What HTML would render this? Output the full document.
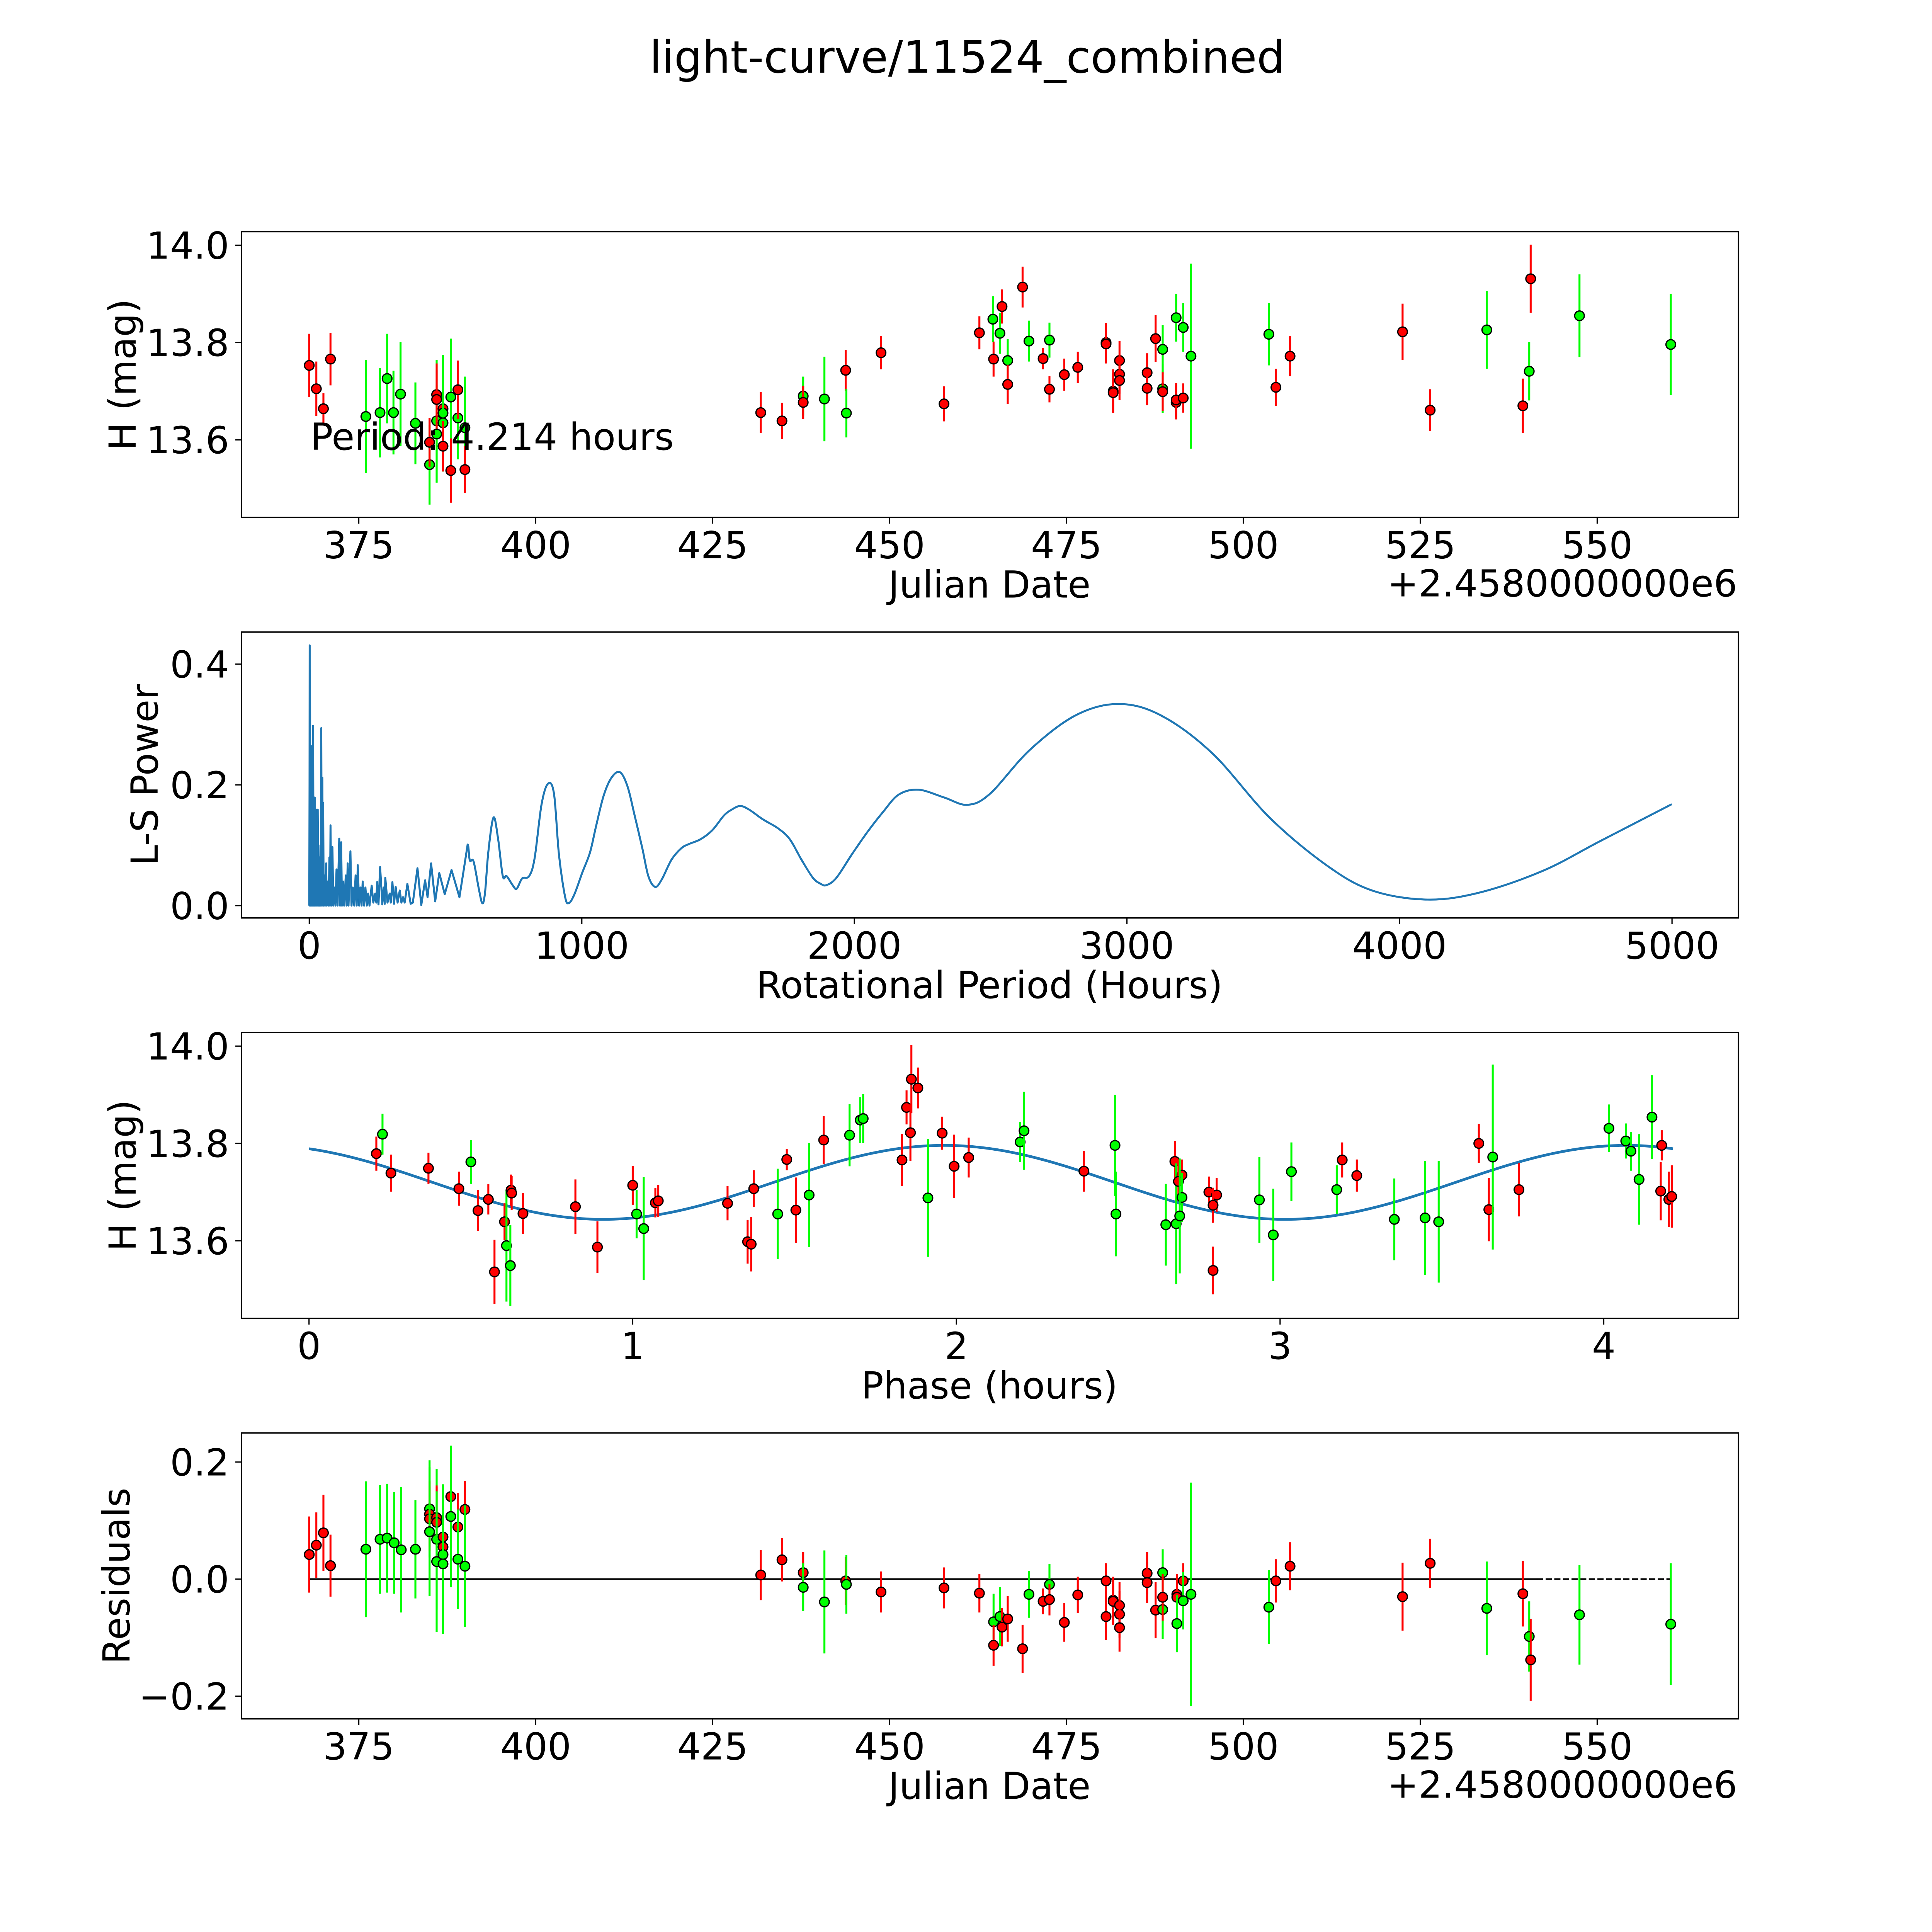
<!DOCTYPE html>
<html><head><meta charset="utf-8"><style>
html,body{margin:0;padding:0;background:#fff;overflow:hidden;}
svg{display:block;width:100vw;height:100vh;}
text{font-family:"DejaVu Sans","Liberation Sans",sans-serif;fill:#000;}
</style></head><body>
<svg id="fig" xmlns="http://www.w3.org/2000/svg" viewBox="0 0 1568 1568" preserveAspectRatio="none">
<rect x="0" y="0" width="1568" height="1568" fill="#fff"/>
<text x="785" y="59" font-size="36" text-anchor="middle">light-curve/11524_combined</text>
</svg>
<script>
// ---- Panel 1: light curve vs Julian date ----
const lcDate=[368.0,369.0,370.0,371.0,376.0,378.0,379.0,379.9,380.9,383.0,385.0,385.0,386.0,386.0,386.0,386.0,386.9,386.9,386.9,386.9,388.0,388.0,389.0,389.0,390.0,390.0,431.8,434.8,437.8,437.8,440.8,443.8,443.9,448.8,457.7,462.7,464.6,464.7,465.9,465.6,466.7,466.7,468.8,469.7,471.7,472.6,472.6,474.7,476.6,480.6,480.6,481.6,481.6,482.5,482.5,482.5,486.4,486.4,487.6,488.6,488.6,488.6,490.5,490.5,490.5,491.5,491.5,492.6,503.6,504.6,506.6,522.5,526.4,534.4,539.5,540.4,540.6,547.5,560.4];
const lcMag=[13.753,13.705,13.664,13.766,13.648,13.656,13.726,13.656,13.694,13.634,13.549,13.595,13.639,13.612,13.693,13.683,13.664,13.655,13.635,13.587,13.688,13.537,13.645,13.703,13.625,13.539,13.656,13.639,13.690,13.677,13.684,13.743,13.655,13.779,13.674,13.820,13.848,13.766,13.874,13.819,13.763,13.714,13.914,13.803,13.767,13.805,13.704,13.734,13.749,13.800,13.797,13.700,13.697,13.763,13.735,13.722,13.738,13.706,13.808,13.786,13.705,13.699,13.851,13.677,13.682,13.831,13.686,13.772,13.817,13.708,13.772,13.822,13.661,13.826,13.670,13.741,13.931,13.855,13.796];
const lcErr=[.065,.056,.032,.054,.116,.092,.092,.086,.107,.084,.082,.05,.125,.1,.064,.06,.066,.12,.1,.052,.12,.066,.085,.06,.105,.048,.042,.037,.04,.034,.087,.042,.05,.034,.036,.034,.047,.036,.035,.042,.044,.04,.042,.042,.022,.036,.027,.033,.032,.04,.04,.045,.04,.04,.04,.04,.04,.035,.048,.05,.05,.04,.049,.035,.035,.05,.03,.19,.064,.038,.041,.058,.043,.08,.056,.06,.07,.085,.104];
const lcBand=['r','r','r','r','g','g','g','g','g','g','g','r','g','g','r','r','r','g','g','r','g','r','g','r','g','r','r','r','g','r','g','r','g','r','r','r','g','r','r','g','g','r','r','g','r','g','r','r','r','r','r','r','r','r','r','r','r','r','r','g','g','r','g','r','r','g','r','g','g','r','r','r','r','g','r','g','r','g','g'];
const dateTicks=[375,400,425,450,475,500,525,550];
const magTicks=[14.0,13.8,13.6];
const magTickLabels=['14.0','13.8','13.6'];

// ---- Panel 2: Lomb-Scargle periodogram ----
const lsPeriod=[0,1,1.5,2,3,4,5,6,8,9,11,12,14,16,18,19,20,22,24,26,28,29,31,33,36,38,41,42,44,46,48,50,51,53,56,58,62,64,68,71,74,76,78,81,85,88,92,96,100,104,110,113,117,120,124,128,134,137,141,144,151,155,160,165,170,174,178,183,188,192,196,201,206,211,216,221,229,235,242,246,249,254,260,268,273,277,279,287,295,299,305,311,317,324,332,338,344,350,360,372,380,397,411,425,434,447,462,477,497,522,551,567,581,589,603,622,635,645,657,676,693,710,724,746,761,781,807,827,852,876,898,916,938,952,973,1002,1030,1052,1080,1109,1140,1168,1194,1222,1244,1269,1293,1329,1365,1393,1436,1479,1521,1550,1581,1614,1664,1720,1763,1806,1848,1877,1898,1934,1991,2048,2105,2163,2236,2330,2414,2497,2644,2811,2968,3125,3314,3523,3732,3900,4103,4297,4528,4737,4999];
const lsPower=[0,0.20,0.431,0,0.39,0,0.17,0,0.264,0,0.2,0,0.298,0,0.12,0,0.179,0,0.13,0,0.159,0,0.159,0,0.08,0,0.1,0,0.294,0,0.212,0,0.17,0,0.05,0,0.07,0,0.04,0,0.08,0,0.133,0,0.097,0,0.03,0,0.06,0,0.111,0,0.105,0,0.04,0,0.05,0,0.07,0,0.09,0,0.03,0,0.05,0,0.067,0,0.03,0,0.04,0,0.03,0,0.02,0,0.033,0.005,0.02,0.005,0.039,0.002,0.064,0.002,0.03,0.003,0.046,0.005,0.02,0.005,0.039,0.003,0.031,0.005,0.025,0.005,0.014,0.005,0.036,0.003,0.005,0.062,0.001,0.042,0.014,0.07,0.007,0.054,0.019,0.059,0.014,0.06,0.101,0.075,0.073,0.028,0.004,0.022,0.089,0.146,0.110,0.049,0.049,0.034,0.028,0.045,0.049,0.079,0.167,0.202,0.185,0.085,0.016,0.004,0.019,0.055,0.088,0.131,0.182,0.212,0.221,0.197,0.149,0.095,0.049,0.031,0.043,0.076,0.095,0.102,0.110,0.125,0.149,0.159,0.165,0.159,0.143,0.128,0.110,0.076,0.046,0.036,0.034,0.046,0.085,0.122,0.155,0.184,0.192,0.179,0.167,0.185,0.258,0.315,0.334,0.315,0.252,0.146,0.067,0.025,0.010,0.022,0.058,0.107,0.168];
const periodTicks=[0,1000,2000,3000,4000,5000];
const powerTicks=[0.0,0.2,0.4];
const powerTickLabels=['0.0','0.2','0.4'];
const smoothFrom=575;

// ---- Panel 3: phased light curve ----
const phPhase=[.208,.227,.253,.369,.463,.500,.522,.554,.573,.604,.610,.622,.624,.626,.661,.823,.891,1.000,1.012,1.034,1.070,1.079,1.293,1.355,1.366,1.374,1.448,1.476,1.504,1.545,1.590,1.670,1.703,1.712,1.832,1.846,1.858,1.861,1.881,1.912,1.956,1.993,2.038,2.197,2.209,2.394,2.490,2.493,2.647,2.675,2.679,2.697,2.686,2.697,2.690,2.780,2.804,2.793,2.793,2.936,2.979,3.035,3.175,3.192,3.237,3.353,3.448,3.490,3.614,3.645,3.657,3.738,4.016,4.068,4.084,4.109,4.149,4.176,4.179,4.201,4.210];
const phMag=[13.779,13.819,13.739,13.749,13.707,13.762,13.662,13.685,13.536,13.639,13.590,13.549,13.704,13.698,13.656,13.670,13.587,13.714,13.655,13.625,13.678,13.682,13.677,13.598,13.593,13.707,13.655,13.767,13.663,13.694,13.807,13.817,13.848,13.851,13.766,13.874,13.822,13.932,13.914,13.688,13.821,13.753,13.771,13.803,13.826,13.743,13.796,13.655,13.633,13.763,13.635,13.735,13.722,13.689,13.651,13.700,13.694,13.673,13.539,13.684,13.612,13.742,13.705,13.766,13.734,13.644,13.647,13.639,13.800,13.664,13.772,13.705,13.831,13.805,13.784,13.726,13.854,13.702,13.796,13.685,13.691];
const phErr=[.035,.042,.038,.032,.035,.045,.042,.031,.066,.038,.115,.083,.032,.035,.042,.056,.053,.04,.05,.106,.03,.033,.035,.045,.056,.038,.093,.022,.067,.107,.049,.064,.047,.05,.054,.035,.058,.07,.042,.121,.034,.065,.041,.041,.08,.042,.104,.087,.084,.042,.124,.032,.04,.05,.118,.032,.035,.036,.049,.088,.095,.06,.05,.036,.033,.084,.117,.125,.04,.065,.19,.055,.049,.036,.04,.093,.086,.06,.031,.057,.064];
const phBand=['r','g','r','r','r','g','r','r','r','r','g','g','r','r','r','r','r','r','g','g','r','r','r','r','r','r','g','r','r','g','r','g','g','g','r','r','r','r','r','g','r','r','r','g','g','r','g','g','g','r','g','r','r','g','g','r','r','r','r','g','g','g','g','r','r','g','g','g','r','r','g','r','g','g','g','g','g','r','r','r','r'];
const fitMean=13.720, fitAmp=0.076, fitPeak=1.962, fitPeriod=4.214;
const phaseTicks=[0,1,2,3,4];

// ---- Panel 4: residuals vs Julian date ----
const resDate=[368.0,369.0,370.0,371.0,376.0,378.0,379.0,380.0,381.0,383.0,385.0,385.0,385.0,385.0,386.0,386.0,386.0,386.0,386.9,386.9,386.9,386.9,388.0,388.0,389.0,389.0,390.0,390.0,431.8,434.8,437.8,437.8,440.8,443.8,443.9,448.8,457.7,462.7,464.7,464.7,465.6,465.9,466.7,468.8,469.7,471.7,472.6,472.6,474.7,476.6,480.6,480.6,481.6,481.6,482.5,482.5,482.5,486.4,486.4,487.6,488.6,488.6,488.6,490.6,490.6,490.6,491.5,491.5,492.6,503.6,504.6,506.6,522.5,526.4,534.4,539.5,540.4,540.6,547.5,560.4];
const resVal=[.042,.058,.079,.023,.051,.068,.070,.062,.050,.051,.120,.111,.103,.081,.068,.105,.097,.030,.072,.055,.042,.026,.141,.107,.089,.034,.119,.022,.007,.033,.011,-.014,-.039,-.003,-.009,-.022,-.015,-.024,-.073,-.113,-.064,-.082,-.068,-.119,-.026,-.038,-.009,-.035,-.074,-.027,-.003,-.064,-.036,-.038,-.045,-.060,-.083,.010,-.006,-.053,.011,-.052,-.031,-.026,-.031,-.076,-.003,-.037,-.026,-.048,-.003,.022,-.030,.027,-.050,-.025,-.098,-.138,-.061,-.077];
const resErr=[.065,.056,.065,.053,.116,.093,.093,.087,.107,.084,.083,.056,.055,.11,.12,.055,.06,.12,.05,.05,.12,.12,.066,.121,.058,.085,.049,.104,.043,.037,.035,.041,.088,.041,.05,.035,.035,.033,.048,.035,.05,.033,.039,.041,.04,.022,.035,.027,.033,.031,.03,.04,.04,.04,.04,.04,.041,.036,.035,.048,.04,.05,.04,.035,.035,.049,.03,.049,.191,.063,.037,.041,.058,.042,.08,.056,.06,.07,.085,.104];
const resBand=['r','r','r','r','g','g','g','g','g','g','g','r','r','g','g','r','r','g','r','r','g','g','r','g','r','g','r','g','r','r','r','g','g','r','g','r','r','r','g','r','g','r','r','r','g','r','g','r','r','r','r','r','r','r','r','r','r','r','r','r','g','g','r','r','r','g','r','g','g','g','r','r','r','r','g','r','g','r','g','g'];
const resTicks=[0.2,0.0,-0.2];
const resTickLabels=['0.2','0.0','\u22120.2'];
const solidEnd=541.5;

const NS='http://www.w3.org/2000/svg';
const svg=document.getElementById('fig');
const COL={r:'#ff0000',g:'#00ff00'};
const FS=30.2;
function mk(tag,attrs,parent){const e=document.createElementNS(NS,tag);for(const k in attrs)e.setAttribute(k,attrs[k]);(parent||svg).appendChild(e);return e;}
function lin(d0,d1,p0,p1){return v=>p0+(v-d0)*(p1-p0)/(d1-d0);}

const L=196,R=1411;
function panel(name){
  const g=mk('g',{});
  
  
  return g;
}
function frame(g,top,bot){
  const f=mk('rect',{x:L,y:top,width:R-L,height:bot-top,fill:'none',stroke:'#000','stroke-width':1.1},g);
  
  
}
function xTicks(g,bot,ticks,labels,xs){
  ticks.forEach((t,i)=>{
    const x=xs(t);
    const l=mk('line',{x1:x,x2:x,y1:bot,y2:bot+5,stroke:'#000','stroke-width':1},g);
    
    
    const tx=mk('text',{x:x,y:bot+33,'font-size':FS,'text-anchor':'middle'},g);
    tx.textContent=labels[i];
    
    
  });
}
function yTicks(g,ticks,labels,ys){
  ticks.forEach((t,i)=>{
    const y=ys(t);
    const l=mk('line',{x1:L-5,x2:L,y1:y,y2:y,stroke:'#000','stroke-width':1},g);
    
    
    const tx=mk('text',{x:L-10,y:y+10.9,'font-size':FS,'text-anchor':'end'},g);
    tx.textContent=labels[i];
    
    
  });
}
function label(g,txt,x,y,rot,name,anchor){
  const t=mk('text',{x:x,y:y,'font-size':FS,'text-anchor':anchor||'middle'},g);
  if(rot)t.setAttribute('transform','rotate(-90 '+x+' '+y+')');
  t.textContent=txt;
  
  
  return t;
}
function points(g,xsArr,ysArr,errArr,band,xs,ys){
  for(let i=0;i<xsArr.length;i++){
    const x=xs(xsArr[i]);
    const bar=mk('line',{x1:x,x2:x,y1:ys(ysArr[i]-errArr[i]),y2:ys(ysArr[i]+errArr[i]),stroke:COL[band[i]],'stroke-width':1.6},g);
    
    
    const c=mk('circle',{cx:x,cy:ys(ysArr[i]),r:3.9,fill:COL[band[i]],stroke:'#000','stroke-width':1},g);
    
    
  }
}

// Panel 1
{
  const top=188,bot=420;
  const g=panel('light-curve-panel');
  const xs=lin(375,500,291.2,1009.1), ys=lin(14.0,13.6,199,357);
  points(g,lcDate,lcMag,lcErr,lcBand,xs,ys);
  frame(g,top,bot);
  xTicks(g,bot,dateTicks,dateTicks.map(String),xs);
  yTicks(g,magTicks,magTickLabels,ys);
  label(g,'Period: 4.214 hours',252,365,false,'period-annotation','start');
  label(g,'Julian Date',803,485,false,'x-axis-title');
  label(g,'+2.4580000000e6',1410,484,false,'x-offset-label','end');
  label(g,'H (mag)',110,304,true,'y-axis-title');
}
// Panel 2
{
  const top=513,bot=745;
  const g=panel('periodogram-panel');
  const xs=lin(0,5000,251,1357), ys=lin(0,0.4,735,539);
  const P=lsPeriod.map((p,i)=>[xs(p),ys(lsPower[i])]);
  let d='M'+P[0][0].toFixed(2)+' '+P[0][1].toFixed(2);
  for(let i=1;i<P.length;i++){
    if(lsPeriod[i-1]<smoothFrom){d+=' L'+P[i][0].toFixed(2)+' '+P[i][1].toFixed(2);continue;}
    const p0=P[Math.max(i-2,0)],p1=P[i-1],p2=P[i],p3=P[Math.min(i+1,P.length-1)];
    const c1=[p1[0]+(p2[0]-p0[0])/6,p1[1]+(p2[1]-p0[1])/6];
    const c2=[p2[0]-(p3[0]-p1[0])/6,p2[1]-(p3[1]-p1[1])/6];
    d+=' C'+c1[0].toFixed(2)+' '+c1[1].toFixed(2)+' '+c2[0].toFixed(2)+' '+c2[1].toFixed(2)+' '+p2[0].toFixed(2)+' '+p2[1].toFixed(2);
  }
  const path=mk('path',{d:d,fill:'none',stroke:'#1f77b4','stroke-width':1.6,'stroke-linejoin':'round'},g);
  
  
  frame(g,top,bot);
  xTicks(g,bot,periodTicks,periodTicks.map(String),xs);
  yTicks(g,powerTicks,powerTickLabels,ys);
  label(g,'Rotational Period (Hours)',803,810,false,'x-axis-title');
  label(g,'L-S Power',128,629,true,'y-axis-title');
}
// Panel 3
{
  const top=838,bot=1070;
  const g=panel('phased-curve-panel');
  const xs=lin(0,1,250.8,513.5), ys=lin(14.0,13.6,849,1007);
  const pts=[];
  for(let k=0;k<=300;k++){const p=fitPeriod*k/300;pts.push((k?'L':'M')+xs(p).toFixed(2)+' '+ys(fitMean+fitAmp*Math.cos(4*Math.PI*(p-fitPeak)/fitPeriod)).toFixed(2));}
  const fit=mk('path',{d:pts.join(' '),fill:'none',stroke:'#1f77b4','stroke-width':2.2},g);
  
  
  points(g,phPhase,phMag,phErr,phBand,xs,ys);
  frame(g,top,bot);
  xTicks(g,bot,phaseTicks,phaseTicks.map(String),xs);
  yTicks(g,magTicks,magTickLabels,ys);
  label(g,'Phase (hours)',803,1135,false,'x-axis-title');
  label(g,'H (mag)',110,954,true,'y-axis-title');
}
// Panel 4
{
  const top=1163,bot=1395;
  const g=panel('residuals-panel');
  const xs=lin(375,500,291.2,1009.1), ys=lin(0,0.2,1281.6,1186.6);
  const zl=mk('line',{x1:xs(368),x2:xs(solidEnd),y1:ys(0),y2:ys(0),stroke:'#000','stroke-width':1.3},g);
  
  
  const zd=mk('line',{x1:xs(solidEnd),x2:xs(560.4),y1:ys(0),y2:ys(0),stroke:'#000','stroke-width':1.3,'stroke-dasharray':'5 2'},g);
  
  
  points(g,resDate,resVal,resErr,resBand,xs,ys);
  frame(g,top,bot);
  xTicks(g,bot,dateTicks,dateTicks.map(String),xs);
  yTicks(g,resTicks,resTickLabels,ys);
  label(g,'Julian Date',803,1460,false,'x-axis-title');
  label(g,'+2.4580000000e6',1410,1459,false,'x-offset-label','end');
  label(g,'Residuals',105,1279,true,'y-axis-title');
}
</script>
</body></html>
